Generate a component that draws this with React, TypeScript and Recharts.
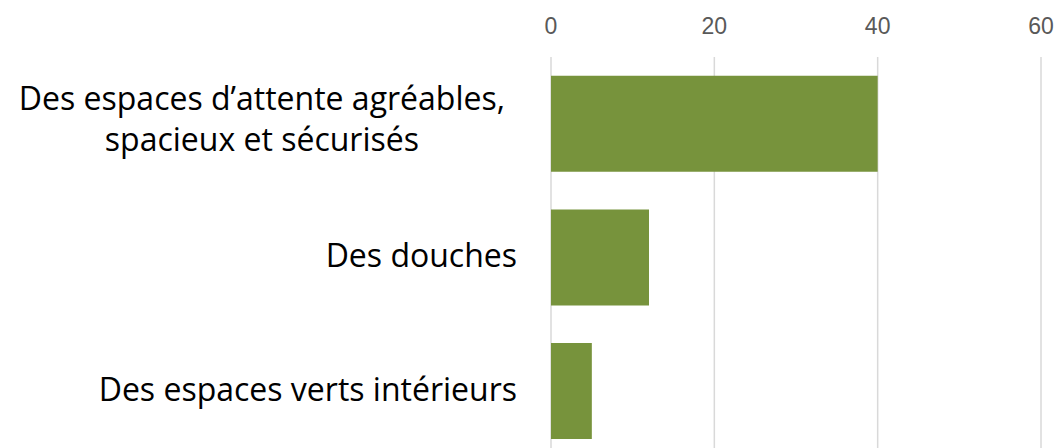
import { BarChart, Bar, XAxis, YAxis, CartesianGrid } from 'recharts';

const categories = [
    'Des espaces d’attente agréables,\nspacieux et sécurisés',
    'Des douches',
    'Des espaces verts intérieurs'
];
const values = [40, 12, 5];
const xTicks = [0, 20, 40, 60];

const data = categories.map((name, i) => ({ name, value: values[i] }));

const LABEL_FONT = '"Open Sans", Lato, sans-serif';
const LABEL_SIZE = 32;
const LINE_GAP = 41;
const WRAP_INSET = 12; // wrapped labels sit a little further from the axis

let ctx: CanvasRenderingContext2D | null = null;
function textWidth(s: string) {
    if (!ctx) ctx = document.createElement('canvas').getContext('2d');
    if (!ctx) return s.length * LABEL_SIZE * 0.5;
    ctx.font = `${LABEL_SIZE}px "Open Sans"`;
    return ctx.measureText(s).width;
}

// category labels: wrapped lines centred on each other, block right-aligned
function CategoryTick(props: any) {
    const { x, y, payload } = props;
    const lines: string[] = String(payload.value).split('\n');
    const n = lines.length;
    const maxW = Math.max(...lines.map(textWidth));
    const cx = x - maxW / 2 - (n > 1 ? WRAP_INSET : 0);
    const firstBase = y + 9.5 - ((n - 1) * LINE_GAP) / 2 - (n - 1) * 3;
    return (
        <g>
            {lines.map((line, i) => (
                <text
                    key={i}
                    x={cx}
                    y={firstBase + i * LINE_GAP}
                    textAnchor="middle"
                    fill="#000"
                    fontFamily={LABEL_FONT}
                    fontSize={LABEL_SIZE}
                >
                    {line}
                </text>
            ))}
        </g>
    );
}

export default function App() {
    return (
        <div style={{ position: 'absolute', left: 0, top: 0, width: 1056, height: 448, overflow: 'hidden', background: '#fff' }}>
            <BarChart
                width={1056}
                height={458}
                data={data}
                layout="vertical"
                barCategoryGap="14%"
                margin={{ top: 0, right: 15, bottom: 0, left: 0 }}
            >
                <CartesianGrid horizontal={false} vertical={true} stroke="#d9d9d9" strokeWidth={1.5} />
                <XAxis
                    type="number"
                    orientation="top"
                    domain={[0, 60]}
                    ticks={xTicks}
                    height={57}
                    axisLine={false}
                    tickLine={false}
                    tickSize={0}
                    tickMargin={23}
                    tick={{ fill: '#595959', fontSize: 23, fontFamily: '"Liberation Sans", Arial, sans-serif' }}
                />
                <YAxis
                    type="category"
                    dataKey="name"
                    width={551}
                    axisLine={false}
                    tickLine={false}
                    tickSize={0}
                    tickMargin={34}
                    tick={<CategoryTick />}
                />
                <Bar dataKey="value" fill="#77933c" isAnimationActive={false} />
            </BarChart>
        </div>
    );
}
